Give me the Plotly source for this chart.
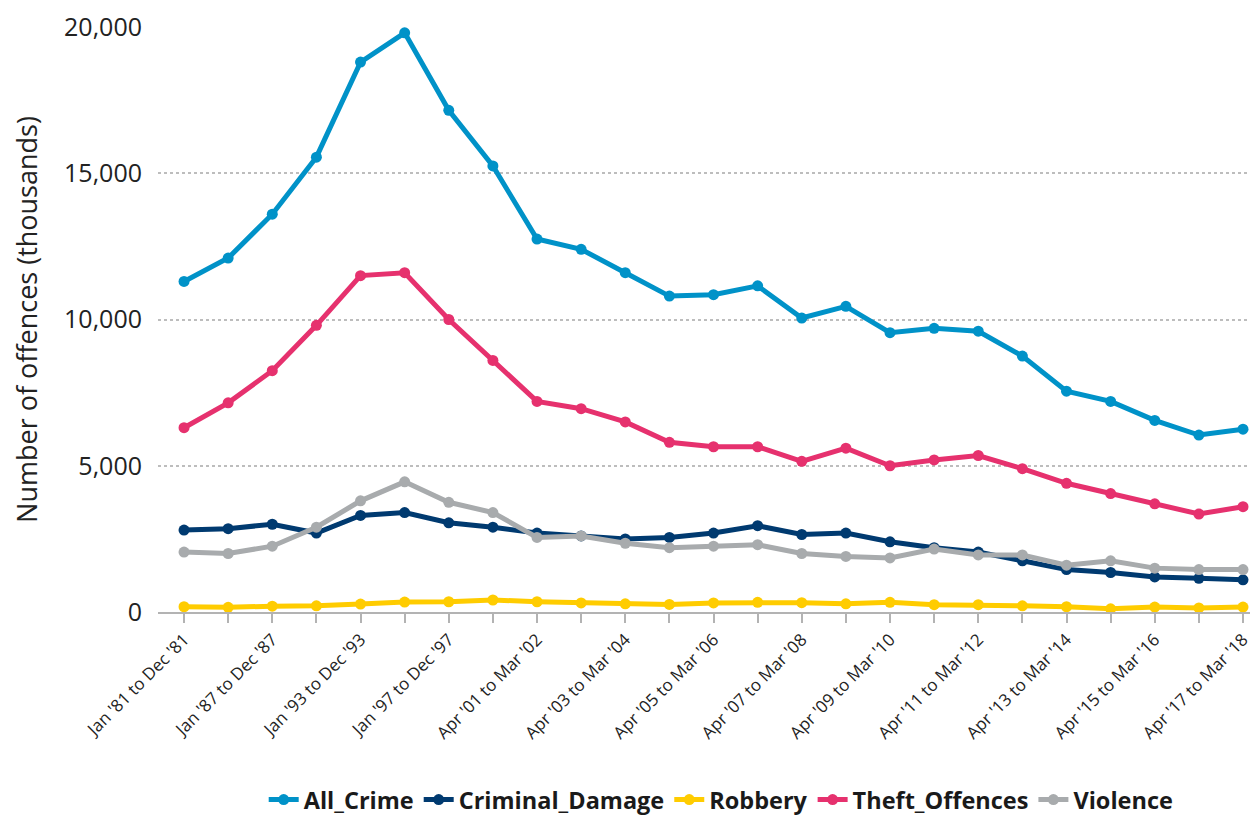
import plotly.graph_objects as go

categories = [
    "Jan '81 to Dec '81", "Jan '83 to Dec '83", "Jan '87 to Dec '87", "Jan '91 to Dec '91",
    "Jan '93 to Dec '93", "Jan '95 to Dec '95", "Jan '97 to Dec '97", "Jan '99 to Dec '99",
    "Apr '01 to Mar '02", "Apr '02 to Mar '03", "Apr '03 to Mar '04", "Apr '04 to Mar '05",
    "Apr '05 to Mar '06", "Apr '06 to Mar '07", "Apr '07 to Mar '08", "Apr '08 to Mar '09",
    "Apr '09 to Mar '10", "Apr '10 to Mar '11", "Apr '11 to Mar '12", "Apr '12 to Mar '13",
    "Apr '13 to Mar '14", "Apr '14 to Mar '15", "Apr '15 to Mar '16", "Apr '16 to Mar '17",
    "Apr '17 to Mar '18",
]

all_crime = [11300, 12100, 13600, 15550, 18800, 19800, 17150, 15250, 12750, 12400,
             11600, 10800, 10850, 11150, 10050, 10450, 9550, 9700, 9600, 8750,
             7550, 7200, 6550, 6050, 6250]
criminal_damage = [2800, 2850, 3000, 2700, 3300, 3400, 3050, 2900, 2700, 2600,
                   2500, 2550, 2700, 2950, 2650, 2700, 2400, 2200, 2050, 1750,
                   1450, 1350, 1200, 1150, 1100]
robbery = [180, 160, 200, 210, 270, 340, 350, 410, 350, 310,
           280, 260, 310, 330, 320, 280, 330, 250, 250, 210,
           180, 110, 170, 140, 170]
theft_offences = [6300, 7150, 8250, 9800, 11500, 11600, 10000, 8600, 7200, 6950,
                  6500, 5800, 5650, 5650, 5150, 5600, 5000, 5200, 5350, 4900,
                  4400, 4050, 3700, 3350, 3600]
violence = [2050, 2000, 2250, 2900, 3800, 4450, 3750, 3400, 2550, 2600,
            2350, 2200, 2250, 2300, 2000, 1900, 1850, 2150, 1950, 1950,
            1600, 1750, 1500, 1450, 1450]

tick_labels = [c if i % 2 == 0 else "" for i, c in enumerate(categories)]
y_ticks = [0, 5000, 10000, 15000, 20000]

series = [
    ("All_Crime", all_crime, "#0092C8"),
    ("Criminal_Damage", criminal_damage, "#003A70"),
    ("Robbery", robbery, "#FFCC00"),
    ("Theft_Offences", theft_offences, "#E6316E"),
    ("Violence", violence, "#A8ABAD"),
]

FONT = "'Open Sans', 'Noto Sans', sans-serif"

fig = go.Figure()
for name, vals, col in series:
    fig.add_trace(go.Scatter(
        x=list(range(len(categories))), y=vals, name=name, mode="lines+markers",
        line=dict(color=col, width=5),
        marker=dict(color=col, size=11),
    ))

# page body has an 8px margin, so the figure is offset by 8px; margins shifted accordingly
fig.update_layout(
    width=1250, height=830,
    margin=dict(l=150, r=0, t=19, b=226),
    paper_bgcolor="white", plot_bgcolor="white",
    font=dict(family=FONT, color="#222222"),
    showlegend=True,
    legend=dict(
        orientation="h", x=0.512, xanchor="center", y=-0.321, yanchor="middle",
        font=dict(size=23.5, family=FONT, weight="bold", color="#1a1a1a"),
        itemwidth=30,
    ),
    xaxis=dict(
        range=[-0.59, 24.34],
        automargin=False,
        tickmode="array",
        tickvals=list(range(len(categories))),
        ticktext=tick_labels,
        tickangle=-45,
        tickfont=dict(size=17, color="#222222"),
        ticks="outside", ticklen=9, tickwidth=2, tickcolor="#b3b3b3",
        showline=True, linecolor="#b3b3b3", linewidth=2,
        showgrid=False, zeroline=False,
    ),
    yaxis=dict(
        range=[0, 20000],
        automargin=False,
        tickmode="array", tickvals=y_ticks,
        tickformat=",d",
        tickfont=dict(size=25, color="#222222"),
        ticklabelstandoff=15,
        showgrid=True, gridcolor="#bdbdbd", griddash="dot", gridwidth=1.5,
        zeroline=False, showline=False,
        title=dict(text="Number of offences (thousands)", font=dict(size=27, color="#222222"), standoff=28),
    ),
)

fig.write_html("out.html")
